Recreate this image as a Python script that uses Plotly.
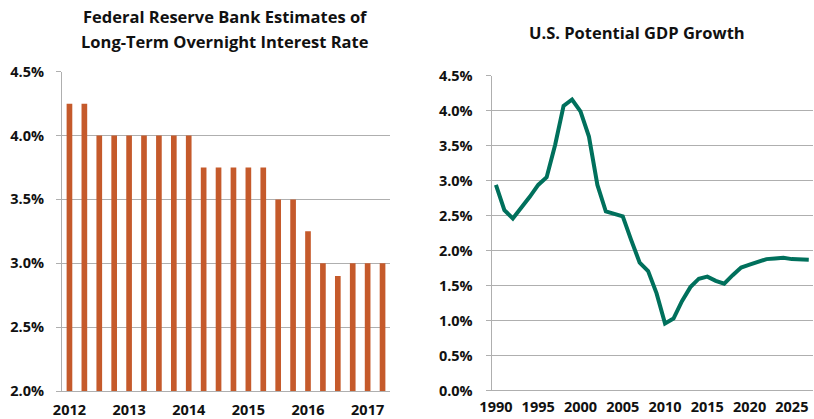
import plotly.graph_objects as go

# Left chart data: quarterly FOMC long-run estimates
quarters = [f"{y} Q{q}" for y in range(2012, 2018) for q in range(1, 5)][:22]
rate_estimates = [4.25, 4.25, 4.0, 4.0, 4.0, 4.0, 4.0, 4.0, 4.0,
                  3.75, 3.75, 3.75, 3.75, 3.75, 3.5, 3.5, 3.25,
                  3.0, 2.9, 3.0, 3.0, 3.0]
left_tick_cats = ["2012 Q1", "2013 Q1", "2014 Q1", "2015 Q1", "2016 Q1", "2017 Q1"]
left_tick_text = ["2012", "2013", "2014", "2015", "2016", "2017"]

# Right chart data: potential GDP growth
years = list(range(1990, 2028))
gdp_growth = [2.94, 2.58, 2.46, 2.61, 2.77, 2.94, 3.05, 3.51, 4.07, 4.16,
              3.99, 3.63, 2.94, 2.56, 2.52, 2.49, 2.15, 1.83, 1.71, 1.39,
              0.96, 1.03, 1.28, 1.48, 1.60, 1.63, 1.57, 1.53, 1.65, 1.76,
              1.80, 1.84, 1.88, 1.89, 1.90, 1.88, 1.87, 1.87]
right_tick_years = ["1990", "1995", "2000", "2005", "2010", "2015", "2020", "2025"]

FONT = "Open Sans"
grid = "#AFAFAF"

fig = go.Figure()
fig.add_trace(go.Bar(
    x=quarters, y=[v / 100 for v in rate_estimates],
    marker=dict(color="#C55A2B", line=dict(width=0)),
    width=0.38, xaxis="x", yaxis="y", showlegend=False,
))
fig.add_trace(go.Scatter(
    x=[str(y) for y in years], y=[v / 100 for v in gdp_growth],
    mode="lines", line=dict(color="#00705C", width=4),
    xaxis="x2", yaxis="y2", showlegend=False,
))

tickfont = dict(family=FONT, size=14.5, color="#111111", weight="bold")

fig.update_layout(
    width=814, height=419,
    margin=dict(l=0, r=0, t=0, b=0, autoexpand=False),
    paper_bgcolor="white", plot_bgcolor="white",
    font=dict(family=FONT),
    xaxis=dict(domain=[62 / 814, 390 / 814], type="category",
               categoryorder="array", categoryarray=quarters,
               range=[-0.5, 21.5], automargin=False,
               tickvals=left_tick_cats, ticktext=left_tick_text,
               tickfont=tickfont, showgrid=False, ticklabelstandoff=5,
               showline=True, linecolor=grid, linewidth=1.2,
               ticks="", anchor="y"),
    yaxis=dict(domain=[(419 - 391) / 419, (419 - 71.7) / 419],
               range=[0.02, 0.045], dtick=0.005, tickformat=".1%",
               tickfont=tickfont, showgrid=True, gridcolor=grid, gridwidth=1.2,
               showline=True, linecolor=grid, linewidth=1.2, automargin=False,
               ticks="outside", ticklen=5, tickcolor=grid, tickwidth=1.2,
               ticklabelstandoff=9, zeroline=False, anchor="x"),
    xaxis2=dict(domain=[491.7 / 814, 813 / 814], type="category",
                range=[-0.5, 37.5], automargin=False,
                tickvals=right_tick_years, ticktext=right_tick_years,
                tickfont=tickfont, showgrid=False, ticklabelstandoff=6,
                showline=False, ticks="", anchor="y2"),
    yaxis2=dict(domain=[(419 - 390.7) / 419, (419 - 75.7) / 419],
                range=[0, 0.045], dtick=0.005, tickformat=".1%",
                tickfont=tickfont, showgrid=True, gridcolor=grid, gridwidth=1.2,
                showline=True, linecolor=grid, linewidth=1.2, automargin=False,
                ticks="outside", ticklen=5, tickcolor=grid, tickwidth=1.2,
                ticklabelstandoff=10,
                zeroline=True, zerolinecolor=grid, zerolinewidth=1.2,
                anchor="x2"),
    annotations=[
        dict(text="Federal Reserve Bank Estimates of",
             x=225 / 814, y=1 - 17 / 419, xref="paper", yref="paper",
             xanchor="center", yanchor="middle", showarrow=False,
             font=dict(family=FONT, size=16.5, color="#111111", weight="bold")),
        dict(text="Long-Term Overnight Interest Rate",
             x=225 / 814, y=1 - 41 / 419, xref="paper", yref="paper",
             xanchor="center", yanchor="middle", showarrow=False,
             font=dict(family=FONT, size=16.5, color="#111111", weight="bold")),
        dict(text="U.S. Potential GDP Growth",
             x=637 / 814, y=1 - 32 / 419, xref="paper", yref="paper",
             xanchor="center", yanchor="middle", showarrow=False,
             font=dict(family=FONT, size=16.5, color="#111111", weight="bold")),
    ],
)

fig.write_html(
    "out.html",
    config={"displayModeBar": False},
    post_script="document.body.style.margin='0';document.body.style.overflow='hidden';",
)
